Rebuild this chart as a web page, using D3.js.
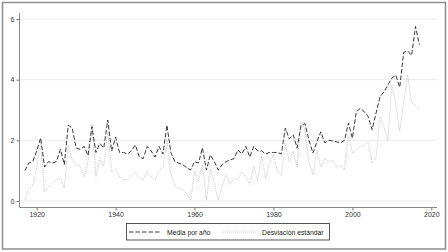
<!DOCTYPE html>
<html>
<head>
<meta charset="utf-8">
<script src="https://cdn.jsdelivr.net/npm/d3@7"></script>
<style>
  body { margin: 0; background: #fff; }
  svg { display: block; font-family: "Liberation Sans", Arial, sans-serif; }
</style>
</head>
<body>
<svg id="chart" width="448" height="252"></svg>
<script>
const firstYear = 1917;
const meanByYear = [
  1.0, 1.25, 1.3, 1.65, 2.08, 1.12, 1.3, 1.25, 1.3, 1.7,
  1.2, 2.5, 2.4, 1.75, 1.7, 1.8, 1.5, 2.45, 1.6, 1.9,
  1.75, 2.67, 1.65, 2.1, 1.6, 1.6, 1.55, 1.65, 1.85, 1.45,
  1.4, 1.8, 1.65, 1.45, 1.8, 1.55, 2.5, 1.6, 1.3, 1.25,
  1.2, 1.1, 1.02, 1.3, 1.25, 1.75, 1.02, 1.52, 1.3, 1.02,
  1.2, 1.3, 1.35, 1.4, 1.68, 1.55, 1.8, 1.45, 1.8, 1.65,
  1.65, 1.55, 1.6, 1.6, 1.6, 1.55, 2.4, 2.05, 2.18, 1.75,
  2.5, 2.55, 2.0, 1.58, 1.95, 2.28, 1.92, 2.0, 1.98, 1.95,
  1.92, 2.0, 2.57, 2.07, 2.95, 3.05, 2.95, 2.78, 2.35, 2.9,
  3.43, 3.6, 3.82, 4.05, 4.15, 3.75, 4.9, 4.95, 4.8, 5.75,
  5.15,
];
const sdByYear = [
  0.03, 0.42, 0.5, 1.1, 1.95, 0.3, 0.47, 0.6, 0.7, 0.75,
  0.42, 1.85, 1.35, 1.2, 1.15, 0.8, 1.3, 2.55, 0.8, 1.4,
  1.15, 2.3, 0.95, 1.05, 0.8, 0.7, 0.7, 0.82, 0.97, 0.77,
  0.7, 0.98, 0.8, 0.68, 1.0, 1.1, 2.0, 0.9, 0.5, 0.42,
  0.38, 0.25, 0.03, 1.0, 0.63, 1.2, 0.03, 1.05, 0.6, 0.03,
  0.5, 0.85, 0.55, 0.75, 0.7, 0.95, 0.8, 0.55, 1.15, 0.65,
  1.5, 0.75, 1.25, 1.5, 0.97, 0.85, 1.9, 1.3, 1.65, 1.1,
  2.6, 2.35, 1.3, 0.85, 1.68, 1.12, 1.42, 1.3, 1.35, 1.12,
  1.18, 1.02, 2.18, 1.58, 1.7, 1.8, 1.85, 1.95, 1.25, 1.42,
  2.78, 2.45, 2.0, 3.85, 3.2, 2.3, 3.25, 4.15, 3.25, 3.15,
  3.0,
];
const xTicks = [1920, 1940, 1960, 1980, 2000, 2020];
const yTicks = [0, 2, 4, 6];
const legendLabels = ['Media por año', 'Desviación estándar'];

const svg = d3.select('#chart');

// outer frame
svg.append('rect')
  .attr('x', 2.5).attr('y', 2.5)
  .attr('width', 443).attr('height', 246.5)
  .attr('fill', '#fff')
  .attr('stroke', '#8c8c8c')
  .attr('stroke-width', 1.5);

const x = d3.scaleLinear().domain([1920, 2020]).range([36.7, 431.3]);
const y = d3.scaleLinear().domain([0, 6]).range([201, 19]);

// gridlines
svg.append('g')
  .selectAll('line')
  .data(yTicks)
  .join('line')
    .attr('x1', 20).attr('x2', 437)
    .attr('y1', (d) => y(d)).attr('y2', (d) => y(d))
    .attr('stroke', '#ebebeb')
    .attr('stroke-width', 1);

// axes
const yAxis = svg.append('g')
  .attr('transform', 'translate(19.5,0)')
  .call(d3.axisLeft(y).tickValues(yTicks).tickSize(3).tickPadding(2).tickFormat(d3.format('d')));
const xAxis = svg.append('g')
  .attr('transform', 'translate(0,207.5)')
  .call(d3.axisBottom(x).tickValues(xTicks).tickSize(3).tickPadding(2).tickFormat(d3.format('d')));

[yAxis, xAxis].forEach((ax) => {
  ax.select('.domain').remove();
  ax.selectAll('.tick line').attr('stroke', '#777');
  ax.selectAll('.tick text')
    .attr('fill', '#333')
    .style('font-size', '7px');
});
svg.append('line')
  .attr('x1', 19.5).attr('x2', 19.5).attr('y1', 13).attr('y2', 207.5)
  .attr('stroke', '#888');
svg.append('line')
  .attr('x1', 19.5).attr('x2', 437).attr('y1', 207.5).attr('y2', 207.5)
  .attr('stroke', '#888');

/**
 * Build one series' line path
 */
const line = d3.line()
  .x((d, i) => x(firstYear + i))
  .y((d) => y(d));

svg.append('path')
  .datum(sdByYear)
  .attr('d', line)
  .attr('fill', 'none')
  .attr('stroke', '#c2c2c2')
  .attr('stroke-width', 0.9)
  .attr('stroke-dasharray', '1,1');

svg.append('path')
  .datum(meanByYear)
  .attr('d', line)
  .attr('fill', 'none')
  .attr('stroke', '#222')
  .attr('stroke-width', 0.9)
  .attr('stroke-dasharray', '4.5,2');

// legend
const legend = svg.append('g');
legend.append('rect')
  .attr('x', 126.5).attr('y', 223.5)
  .attr('width', 203).attr('height', 16.5)
  .attr('fill', '#fff')
  .attr('stroke', '#444')
  .attr('stroke-width', 0.9);
legend.append('line')
  .attr('x1', 129).attr('x2', 161).attr('y1', 232).attr('y2', 232)
  .attr('stroke', '#222').attr('stroke-width', 0.9)
  .attr('stroke-dasharray', '4.5,2');
legend.append('line')
  .attr('x1', 223).attr('x2', 257).attr('y1', 232).attr('y2', 232)
  .attr('stroke', '#c2c2c2').attr('stroke-width', 0.9)
  .attr('stroke-dasharray', '1,1');
legend.selectAll('text')
  .data(legendLabels)
  .join('text')
    .attr('x', (d, i) => (i === 0 ? 167 : 262))
    .attr('y', 234.5)
    .attr('fill', '#222')
    .style('font-size', '6.8px')
    .text((d) => d);
</script>
</body>
</html>
